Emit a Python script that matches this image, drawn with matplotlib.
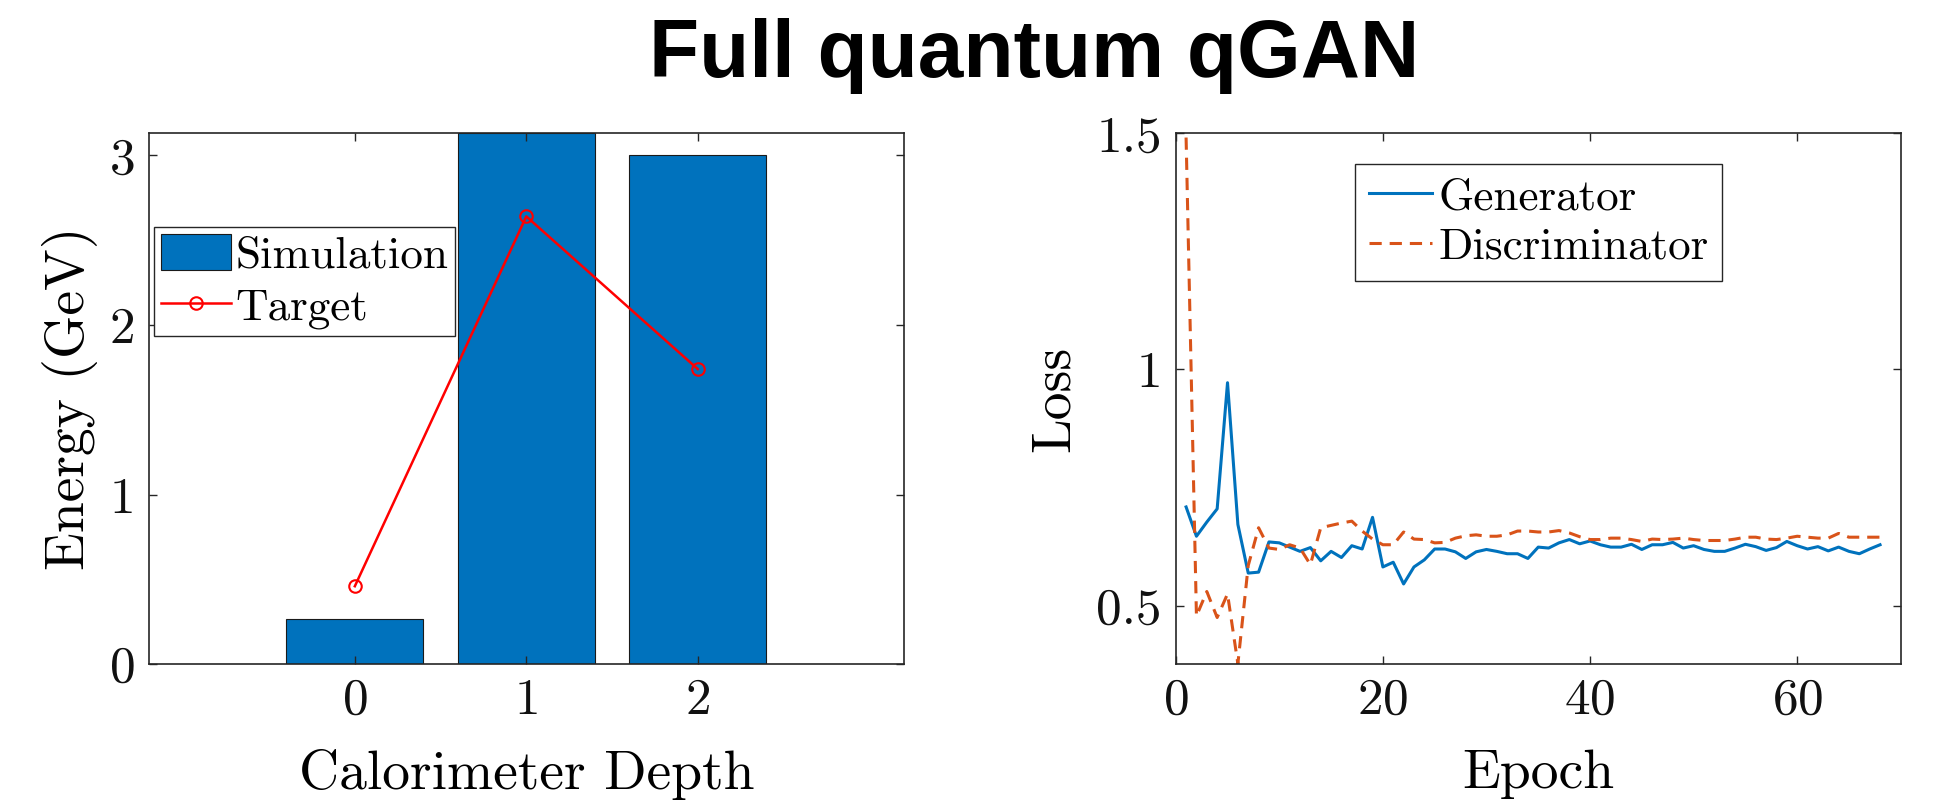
import matplotlib
matplotlib.use("Agg")
import matplotlib.pyplot as plt
import numpy as np

plt.rcParams['font.family'] = ['cmr10', 'DejaVu Serif']
plt.rcParams['axes.formatter.use_mathtext'] = True
plt.rcParams['mathtext.fontset'] = 'cm'

# ---- left panel data ----
depths = [0, 1, 2]
simulation = [0.265, 3.13, 3.0]
target = [0.46, 2.64, 1.74]
left_yticks = [0, 1, 2, 3]
left_yticklabels = ['0', '1', '2', '3']

# ---- right panel data ----
generator = [0.709, 0.647, 0.677, 0.705, 0.972, 0.672, 0.569, 0.571, 0.635, 0.633,
             0.624, 0.615, 0.623, 0.595, 0.615, 0.602, 0.627, 0.620, 0.687, 0.582,
             0.592, 0.546, 0.582, 0.597, 0.620, 0.620, 0.614, 0.600, 0.614, 0.619,
             0.615, 0.610, 0.610, 0.600, 0.624, 0.622, 0.633, 0.640, 0.631, 0.637,
             0.629, 0.624, 0.624, 0.630, 0.619, 0.629, 0.629, 0.634, 0.622, 0.627,
             0.619, 0.615, 0.615, 0.622, 0.630, 0.625, 0.617, 0.623, 0.636, 0.627,
             0.620, 0.625, 0.616, 0.624, 0.615, 0.610, 0.620, 0.629]
discriminator = [1.491, 0.478, 0.530, 0.475, 0.525, 0.377, 0.585, 0.665, 0.622, 0.619,
                 0.629, 0.622, 0.587, 0.665, 0.670, 0.675, 0.679, 0.658, 0.641, 0.629,
                 0.629, 0.656, 0.641, 0.640, 0.633, 0.634, 0.643, 0.648, 0.650, 0.647,
                 0.647, 0.650, 0.658, 0.658, 0.656, 0.656, 0.659, 0.654, 0.646, 0.640,
                 0.640, 0.643, 0.643, 0.640, 0.636, 0.641, 0.640, 0.641, 0.643, 0.640,
                 0.638, 0.638, 0.638, 0.641, 0.645, 0.645, 0.641, 0.640, 0.643, 0.647,
                 0.645, 0.643, 0.643, 0.653, 0.645, 0.645, 0.645, 0.645]
epochs = np.arange(1, len(generator) + 1)
right_xticks = [0, 20, 40, 60]
right_yticks = [0.5, 1.0, 1.5]
right_yticklabels = ['0.5', '1', '1.5']

BLUE = '#0072BD'
ORANGE = '#D95319'
AXC = '#262626'
TICK_FS = 37
LABEL_FS = 40
LEG_FS = 32.5

fig = plt.figure(figsize=(19.36, 8.01), dpi=100)
ax1 = fig.add_axes([0.0770, 0.1707, 0.3897, 0.6629])
ax2 = fig.add_axes([0.6073, 0.1707, 0.3745, 0.6629])


def style_axes(ax):
    for s in ax.spines.values():
        s.set_color(AXC)
        s.set_linewidth(1.2)
    ax.tick_params(direction='in', top=True, right=True, length=6, width=1.0,
                   color=AXC, labelsize=TICK_FS, labelcolor='#111111', pad=10)


# left: energy profile
bars = ax1.bar(depths, simulation, width=0.8, color=BLUE, edgecolor='#1a1a1a',
               linewidth=0.8, label='Simulation')
line_t, = ax1.plot(depths, target, '-o', color='#FF0000', lw=1.8, markersize=9,
                   markerfacecolor='none', markeredgewidth=1.5, label='Target')
ax1.set_xlim(-1.2, 3.2)
ax1.set_ylim(0, 3.13)
ax1.set_xticks(depths)
ax1.set_yticks(left_yticks, labels=left_yticklabels)
ax1.set_xlabel('Calorimeter Depth', fontsize=LABEL_FS, labelpad=18)
ax1.set_ylabel('Energy (GeV)', fontsize=LABEL_FS, labelpad=8)
style_axes(ax1)
leg1 = ax1.legend([bars, line_t], ['Simulation', 'Target'],
                  loc='upper left', bbox_to_anchor=(0.0066, 0.8235),
                  borderaxespad=0, fontsize=LEG_FS, frameon=True, fancybox=False,
                  framealpha=1, edgecolor=AXC, handlelength=1.55, handleheight=0.85,
                  handletextpad=0.1, borderpad=0.15, labelspacing=0.22)
leg1.get_frame().set_linewidth(1.0)

# right: training losses
ax2.plot(epochs, generator, '-', color=BLUE, lw=2.2, label='Generator')
ax2.plot(epochs, discriminator, '--', color=ORANGE, lw=2.2, dashes=(4, 2.6),
         label='Discriminator')
ax2.set_xlim(0, 70)
ax2.set_ylim(0.376, 1.5)
ax2.set_xticks(right_xticks)
ax2.set_yticks(right_yticks, labels=right_yticklabels)
ax2.set_xlabel('Epoch', fontsize=LABEL_FS, labelpad=18)
ax2.set_ylabel('Loss', fontsize=LABEL_FS, labelpad=12)
style_axes(ax2)
leg2 = ax2.legend(loc='upper left', bbox_to_anchor=(0.2473, 0.9422),
                  borderaxespad=0, fontsize=LEG_FS, frameon=True, fancybox=False,
                  framealpha=1, edgecolor=AXC, handlelength=1.4, handletextpad=0.15,
                  borderpad=0.3, labelspacing=0.2)
leg2.get_frame().set_linewidth(1.0)

fig.text(0.534, 0.930, 'Full quantum qGAN', ha='center', va='center',
         fontsize=59, fontweight='bold', family='Liberation Sans')

fig.savefig('out.png', dpi=100)
